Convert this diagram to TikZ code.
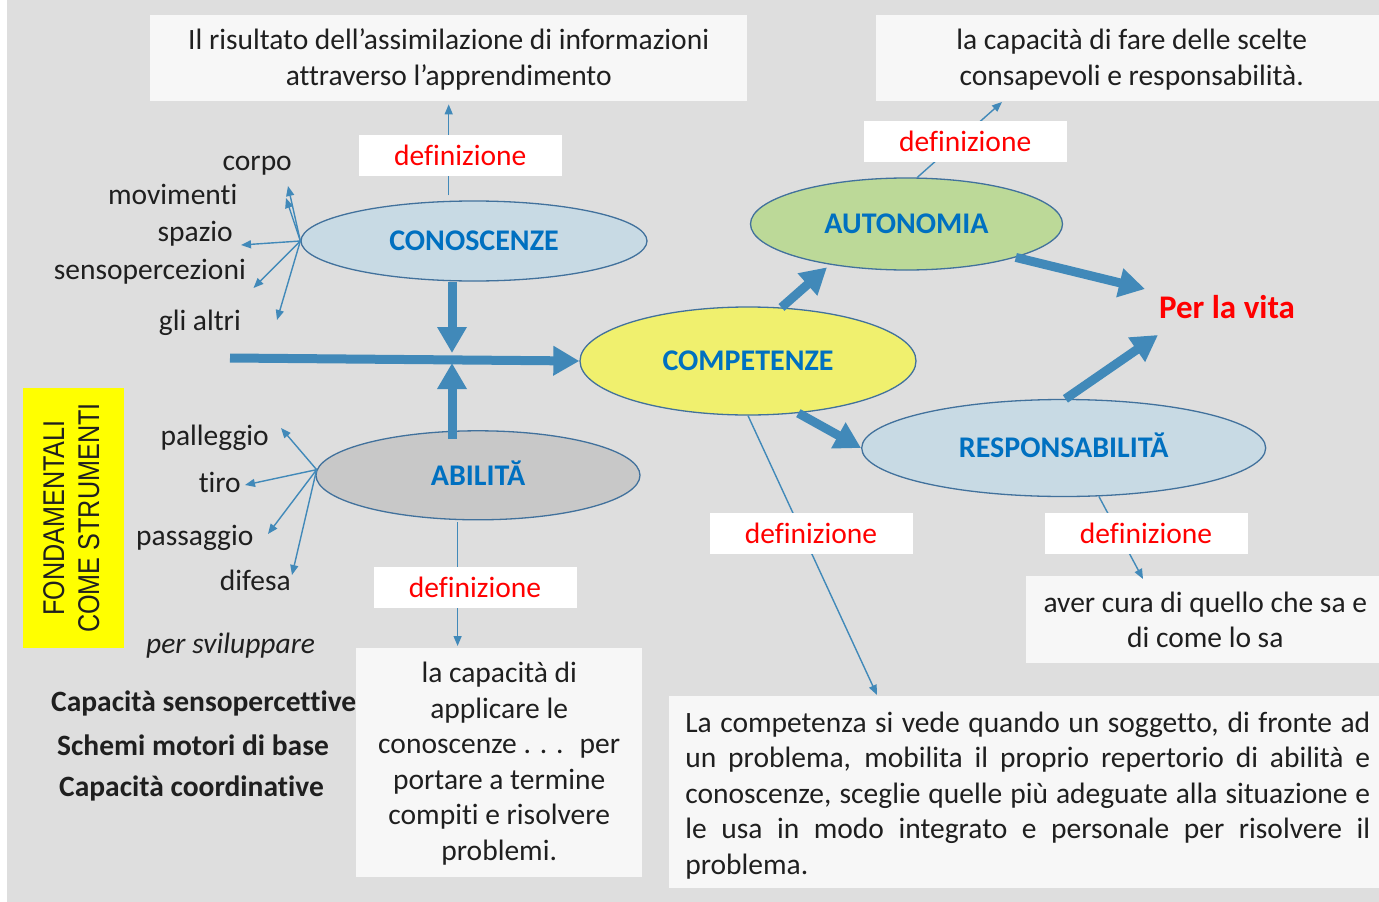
\documentclass[tikz,border=0pt]{standalone}
\usepackage{fontspec}
\setmainfont{Carlito}[Ligatures={NoCommon,NoContextual}]
\newfontfamily\yfont[FakeStretch=0.84]{Liberation Sans}
\usetikzlibrary{arrows.meta,shapes.geometric}
\definecolor{bg}{HTML}{DEDEDE}
\definecolor{boxf}{HTML}{F7F7F7}
\definecolor{arrowc}{HTML}{4189B9}
\definecolor{ellb}{HTML}{41719C}
\definecolor{lblue}{HTML}{C8DAE4}
\definecolor{lgreen}{HTML}{BCD998}
\definecolor{lyellow}{HTML}{F0F06E}
\definecolor{lgrey}{HTML}{C8C8C8}
\definecolor{titleblue}{HTML}{0070C0}
\definecolor{txt}{HTML}{1F1F1F}
\definecolor{yel}{HTML}{FFFF00}
\begin{document}
\begin{tikzpicture}[x=1pt,y=-1pt,
 fnt/.style={font=\fontsize{29.5}{35.5}\selectfont},
 word/.style={fnt,text=txt,inner sep=0pt,anchor=base east},
 infobox/.style={fnt,text=txt,fill=boxf,inner sep=0pt,anchor=north west,align=center},
 deflabel/.style={fnt,text=red,fill=white,inner sep=0pt,minimum width=203pt,minimum height=41pt},
 concept/.style={ellipse,draw=ellb,line width=1.3pt,inner sep=0pt,text=titleblue,font=\fontsize{30}{35}\selectfont\bfseries},
 conn/.style={draw=arrowc,line width=1.4pt,-{Triangle[length=10pt,width=8pt]}},
 bigarrow/.style={draw=arrowc,line width=9pt,-{Triangle[length=26pt,width=28pt]}},
 boldline/.style={text=txt,font=\fontsize{29.5}{35}\selectfont\bfseries,inner sep=0pt,anchor=base west}
]
\useasboundingbox (0,0) rectangle (1379,902);
\fill[bg] (7,0) rectangle (1379,902);

% definition boxes
\node[infobox,minimum width=597pt,minimum height=86pt] (topL) at (150,15)
  {\rule{0pt}{29.5pt}Il risultato dell’assimilazione di informazioni\\attraverso l’apprendimento\strut};
\node[infobox,minimum width=511pt,minimum height=86pt] (topR) at (876,15)
  {\rule{0pt}{29.5pt}la capacità di fare delle scelte\\consapevoli e responsabilità.\strut};
\node[infobox,minimum width=286pt,minimum height=229pt] (midB) at (356,648)
  {\rule{0pt}{28.7pt}la capacità di\\applicare le\\conoscenze . . .\hspace{16pt}per\\portare a termine\\compiti e risolvere\\problemi.\strut};
\node[infobox,minimum width=359pt,minimum height=87pt] (careB) at (1025.6,576)
  {\rule{0pt}{31.6pt}aver cura di quello che sa e\\di come lo sa\strut};
\node[infobox,minimum width=718pt,minimum height=192pt,text width=685pt,align=left] (compB) at (668.6,696)
  {\spaceskip=0pt\xspaceskip=0pt\relax
   \rule{0pt}{32.6pt}\makebox[685pt][s]{La competenza si vede quando un soggetto, di fronte ad}\\
   \makebox[685pt][s]{un problema, mobilita il proprio repertorio di abilità e}\\
   \makebox[685pt][s]{conoscenze, sceglie quelle più adeguate alla situazione e}\\
   \makebox[685pt][s]{le usa in modo integrato e personale per risolvere il}\\
   problema.\strut};

% yellow box
\node[fill=yel,rotate=90,minimum width=260pt,minimum height=101pt,inner sep=0pt,align=center,
      font=\yfont\fontsize{30}{35}\selectfont,text=txt] (fond) at (73.5,518)
  {\rule{0pt}{26.5pt}FONDAMENTALI\\COME STRUMENTI\strut};

% concepts
\node[concept,fill=lblue,minimum width=346pt,minimum height=80pt] (cono) at (474,241) {CONOSCENZE};
\node[concept,fill=lgreen,minimum width=312pt,minimum height=92pt] (aut) at (906.5,224) {AUTONOMIA};
\node[concept,fill=lyellow,minimum width=336pt,minimum height=108pt] (comp) at (748,361) {COMPETENZE};
\node[concept,fill=lblue,minimum width=404pt,minimum height=97pt] (resp) at (1063.7,448) {\vphantom{A}\smash{RESPONSABILITĂ}};
\node[concept,fill=lgrey,minimum width=324pt,minimum height=89pt] (abil) at (478,475.3) {\vphantom{A}\smash{ABILITĂ}};
\node[font=\fontsize{33}{38}\selectfont\bfseries,text=red,inner sep=0pt,anchor=base] (vita) at (1227,318) {Per la vita};

% words
\node[word] (w1) at (292,170) {corpo};
\node[word] (w2) at (237.5,204) {movimenti};
\node[word] (w3) at (233,241.7) {spazio};
\node[word] (w4) at (246,279) {sensopercezioni};
\node[word] (w5) at (241,330) {gli altri};
\node[word] (w6) at (269,445) {palleggio};
\node[word] (w7) at (241,492.7) {tiro};
\node[word] (w8) at (253.6,545) {passaggio};
\node[word] (w9) at (291,590.7) {difesa};
\node[text=txt,inner sep=0pt,anchor=base west,font=\fontsize{29.5}{35}\selectfont\itshape] (svil) at (146,653) {per sviluppare};
\node[boldline] (b1) at (51,711.7) {Capacità sensopercettive};
\node[boldline] (b2) at (57,755) {Schemi motori di base};
\node[boldline] (b3) at (59,796) {Capacità coordinative};

% free ends
\coordinate (tc1) at (288,186);
\coordinate (tc2) at (286,198);
\coordinate (tc3) at (241,245);
\coordinate (tc4) at (253.5,288);
\coordinate (tc5) at (277,320);
\coordinate (ta1) at (281,428);
\coordinate (ta2) at (245,485);
\coordinate (ta3) at (268,534);
\coordinate (ta4) at (292,575);
\coordinate (tAut) at (1002,102);
\coordinate (tComp) at (877,695);
\coordinate (tResp) at (1143,579);
\coordinate (tAbil) at (457.6,646);
\coordinate (hTail) at (230,358);
\coordinate (dTip) at (452,353);
\coordinate (uTip) at (452,363);
\coordinate (tv1) at (1145,289);
\coordinate (tv2) at (1158,335);

% thin connectors
\draw[conn,shorten <=5pt,shorten >=3pt] (cono.north -| topL.south) -- (topL.south);
\draw[conn] (aut.77) -- (tAut);
\draw[conn] (comp.south) -- (tComp);
\draw[conn] (resp.306) -- (tResp);
\draw[conn,shorten <=2pt] (abil.south -| tAbil) -- (tAbil);
\foreach \t in {tc1,tc2,tc3,tc4,tc5} \draw[conn] (cono.west) -- (\t);
\foreach \t in {ta1,ta2,ta3,ta4} \draw[conn] (abil.178) -- (\t);

% labels
\node[deflabel] (d1) at (460.3,155) {definizione};
\node[deflabel] (d2) at (965.2,141.2) {definizione};
\node[deflabel] (d3) at (811,533.5) {definizione};
\node[deflabel] (d4) at (1146,533.5) {definizione};
\node[deflabel] (d5) at (475,587.4) {definizione};

% thick arrows
\draw[bigarrow] (hTail) -- (comp.west);
\draw[bigarrow] (cono.south -| dTip) -- (dTip);
\draw[bigarrow,shorten <=-9pt] (abil.north -| uTip) -- (uTip);
\draw[bigarrow,shorten >=4pt] (comp.58) -- (aut.208);
\draw[bigarrow] (aut.343) -- (tv1);
\draw[bigarrow] (resp.88) -- (tv2);
\draw[bigarrow] (comp.314) -- (resp.west);
\end{tikzpicture}
\end{document}
